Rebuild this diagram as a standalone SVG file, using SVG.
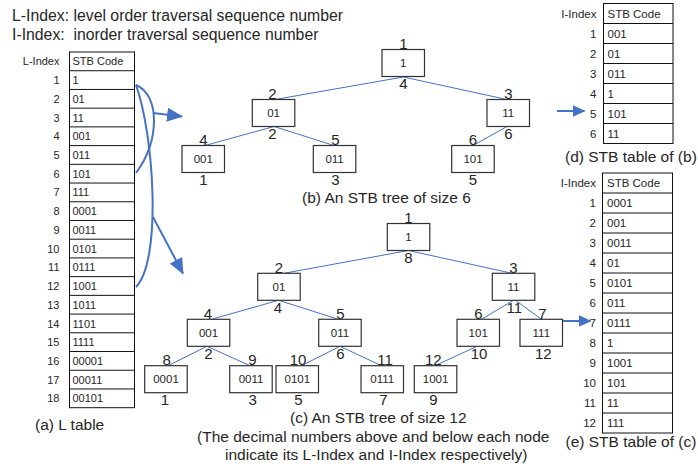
<svg xmlns="http://www.w3.org/2000/svg" width="698" height="467" viewBox="0 0 698 467">
<style>
text{font-family:"Liberation Sans",Arial,sans-serif;fill:#262626}
.big{font-size:15.5px}
.top{font-size:15.8px}
.lbl{font-size:15px;text-anchor:middle}
.code{font-size:11.5px;text-anchor:middle}
.tl{font-size:11px}
.tr{font-size:11px;text-anchor:end}
.rl{font-size:11.5px}
.rr{font-size:11.5px;text-anchor:end}
.box{fill:#fff;stroke:#333;stroke-width:1.2}
.tab{fill:none;stroke:#111;stroke-width:1}
.edge{stroke:#4472C4;stroke-width:1;fill:none}
.brace{stroke:#4472C4;stroke-width:2;fill:none}
</style>
<defs>
<marker id="ah" viewBox="0 0 16 14" refX="15" refY="7" markerWidth="16" markerHeight="14" markerUnits="userSpaceOnUse" orient="auto">
<path d="M0,0 L16,7 L0,14 Z" fill="#4472C4"/>
</marker>
<marker id="ahs" viewBox="0 0 13 12" refX="12" refY="6" markerWidth="13" markerHeight="12" markerUnits="userSpaceOnUse" orient="auto">
<path d="M0,0 L13,6 L0,12 Z" fill="#4472C4"/>
</marker>
</defs>

<text class="top" x="12" y="20.5">L-Index: level order traversal sequence number</text>
<text class="top" x="12" y="40" xml:space="preserve">I-Index:  inorder traversal sequence number</text>

<!-- L table -->
<g id="ltable">
<rect class="tab" x="69.5" y="52" width="65" height="355.7"/>
<path class="tab" d="M69.5,70.72H134.5M69.5,89.44H134.5M69.5,108.16H134.5M69.5,126.88H134.5M69.5,145.6H134.5M69.5,164.32H134.5M69.5,183.04H134.5M69.5,201.76H134.5M69.5,220.48H134.5M69.5,239.2H134.5M69.5,257.92H134.5M69.5,276.64H134.5M69.5,295.36H134.5M69.5,314.08H134.5M69.5,332.8H134.5M69.5,351.52H134.5M69.5,370.24H134.5M69.5,388.96H134.5"/>
<text class="tr" x="59.5" y="65.4">L-Index</text><text class="tl" x="72.5" y="65.4">STB Code</text>
<text class="tr" x="59.5" y="84.1">1</text><text class="tl" x="72.5" y="84.1">1</text>
<text class="tr" x="59.5" y="102.8">2</text><text class="tl" x="72.5" y="102.8">01</text>
<text class="tr" x="59.5" y="121.6">3</text><text class="tl" x="72.5" y="121.6">11</text>
<text class="tr" x="59.5" y="140.3">4</text><text class="tl" x="72.5" y="140.3">001</text>
<text class="tr" x="59.5" y="159">5</text><text class="tl" x="72.5" y="159">011</text>
<text class="tr" x="59.5" y="177.7">6</text><text class="tl" x="72.5" y="177.7">101</text>
<text class="tr" x="59.5" y="196.4">7</text><text class="tl" x="72.5" y="196.4">111</text>
<text class="tr" x="59.5" y="215.2">8</text><text class="tl" x="72.5" y="215.2">0001</text>
<text class="tr" x="59.5" y="233.9">9</text><text class="tl" x="72.5" y="233.9">0011</text>
<text class="tr" x="59.5" y="252.6">10</text><text class="tl" x="72.5" y="252.6">0101</text>
<text class="tr" x="59.5" y="271.3">11</text><text class="tl" x="72.5" y="271.3">0111</text>
<text class="tr" x="59.5" y="290">12</text><text class="tl" x="72.5" y="290">1001</text>
<text class="tr" x="59.5" y="308.8">13</text><text class="tl" x="72.5" y="308.8">1011</text>
<text class="tr" x="59.5" y="327.5">14</text><text class="tl" x="72.5" y="327.5">1101</text>
<text class="tr" x="59.5" y="346.2">15</text><text class="tl" x="72.5" y="346.2">1111</text>
<text class="tr" x="59.5" y="364.9">16</text><text class="tl" x="72.5" y="364.9">00001</text>
<text class="tr" x="59.5" y="383.6">17</text><text class="tl" x="72.5" y="383.6">00011</text>
<text class="tr" x="59.5" y="402.4">18</text><text class="tl" x="72.5" y="402.4">00101</text>
<text class="big" x="35" y="429.5">(a) L table</text>
</g>

<!-- table d -->
<g id="dtable">
<rect class="tab" x="603.5" y="3.5" width="69.5" height="140"/>
<path class="tab" d="M603.5,23.5H673M603.5,43.5H673M603.5,63.5H673M603.5,83.5H673M603.5,103.5H673M603.5,123.5H673"/>
<text class="rr" x="596.5" y="17.8">I-Index</text><text class="rl" x="607.5" y="17.8">STB Code</text>
<text class="rr" x="596.5" y="37.8">1</text><text class="rl" x="607.5" y="37.8">001</text>
<text class="rr" x="596.5" y="57.8">2</text><text class="rl" x="607.5" y="57.8">01</text>
<text class="rr" x="596.5" y="77.8">3</text><text class="rl" x="607.5" y="77.8">011</text>
<text class="rr" x="596.5" y="97.8">4</text><text class="rl" x="607.5" y="97.8">1</text>
<text class="rr" x="596.5" y="117.8">5</text><text class="rl" x="607.5" y="117.8">101</text>
<text class="rr" x="596.5" y="137.8">6</text><text class="rl" x="607.5" y="137.8">11</text>
<text class="big" x="565" y="162">(d) STB table of (b)</text>
</g>

<!-- table e -->
<g id="etable">
<rect class="tab" x="602.5" y="173" width="70" height="260"/>
<path class="tab" d="M602.5,193H672.5M602.5,213H672.5M602.5,233H672.5M602.5,253H672.5M602.5,273H672.5M602.5,293H672.5M602.5,313H672.5M602.5,333H672.5M602.5,353H672.5M602.5,373H672.5M602.5,393H672.5M602.5,413H672.5"/>
<text class="rr" x="596" y="187.3">I-Index</text><text class="rl" x="607" y="187.3">STB Code</text>
<text class="rr" x="596" y="207.3">1</text><text class="rl" x="607" y="207.3">0001</text>
<text class="rr" x="596" y="227.3">2</text><text class="rl" x="607" y="227.3">001</text>
<text class="rr" x="596" y="247.3">3</text><text class="rl" x="607" y="247.3">0011</text>
<text class="rr" x="596" y="267.3">4</text><text class="rl" x="607" y="267.3">01</text>
<text class="rr" x="596" y="287.3">5</text><text class="rl" x="607" y="287.3">0101</text>
<text class="rr" x="596" y="307.3">6</text><text class="rl" x="607" y="307.3">011</text>
<text class="rr" x="596" y="327.3">7</text><text class="rl" x="607" y="327.3">0111</text>
<text class="rr" x="596" y="347.3">8</text><text class="rl" x="607" y="347.3">1</text>
<text class="rr" x="596" y="367.3">9</text><text class="rl" x="607" y="367.3">1001</text>
<text class="rr" x="596" y="387.3">10</text><text class="rl" x="607" y="387.3">101</text>
<text class="rr" x="596" y="407.3">11</text><text class="rl" x="607" y="407.3">11</text>
<text class="rr" x="596" y="427.3">12</text><text class="rl" x="607" y="427.3">111</text>
<text class="big" x="565.5" y="447">(e) STB table of (c)</text>
</g>

<!-- connectors -->
<g id="connectors">
<line class="edge" x1="403.3" y1="77" x2="275" y2="99.5"/>
<line class="edge" x1="403.3" y1="77" x2="507" y2="99.5"/>
<line class="edge" x1="274" y1="126.5" x2="205" y2="145.5"/>
<line class="edge" x1="274" y1="126.5" x2="334" y2="145.5"/>
<line class="edge" x1="507" y1="126.5" x2="473" y2="145.5"/>

<line class="edge" x1="408.5" y1="250.5" x2="284" y2="273.3"/>
<line class="edge" x1="408.5" y1="250.5" x2="512" y2="273.3"/>
<line class="edge" x1="278.5" y1="300.3" x2="211.5" y2="319.3"/>
<line class="edge" x1="278.5" y1="300.3" x2="338.5" y2="319.3"/>
<line class="edge" x1="513.5" y1="300.3" x2="481.5" y2="319.3"/>
<line class="edge" x1="515.5" y1="300.3" x2="541.5" y2="319.3"/>
<line class="edge" x1="207" y1="346.3" x2="168" y2="365.7"/>
<line class="edge" x1="207" y1="346.3" x2="250" y2="365.7"/>
<line class="edge" x1="340" y1="346.3" x2="301.5" y2="365.7"/>
<line class="edge" x1="340" y1="346.3" x2="381.5" y2="365.7"/>
<line class="edge" x1="477" y1="346.3" x2="435" y2="365.7"/>

<path class="brace" d="M136,85 C160,95 160,140 136,173"/>
<path class="brace" d="M136,85 C154,135 162,260 136,287"/>
<line class="brace" x1="153" y1="113" x2="182" y2="116.5" marker-end="url(#ah)"/>
<line class="brace" x1="153" y1="217" x2="183" y2="273.5" marker-end="url(#ah)"/>
<line class="brace" x1="557" y1="111" x2="584.5" y2="111" marker-end="url(#ahs)"/>
<line class="brace" x1="562" y1="321" x2="590.5" y2="321" marker-end="url(#ahs)"/>
</g>

<!-- tree b -->
<g id="b1"><rect class="box" x="382" y="49.5" width="42.5" height="27"/><text class="code" x="403.3" y="67">1</text><text class="lbl" x="403.3" y="49">1</text><text class="lbl" x="403.3" y="89">4</text></g>
<g id="b2"><rect class="box" x="252.3" y="99.5" width="42.5" height="27"/><text class="code" x="273.6" y="117">01</text><text class="lbl" x="272.5" y="99">2</text><text class="lbl" x="272.5" y="139">2</text></g>
<g id="b3"><rect class="box" x="487" y="99.5" width="42.5" height="27"/><text class="code" x="508.3" y="117">11</text><text class="lbl" x="508.3" y="99">3</text><text class="lbl" x="508.3" y="139">6</text></g>
<g id="b4"><rect class="box" x="182" y="145.5" width="42.5" height="27"/><text class="code" x="203.3" y="163">001</text><text class="lbl" x="203.3" y="145">4</text><text class="lbl" x="203.3" y="185">1</text></g>
<g id="b5"><rect class="box" x="313.3" y="145.5" width="42.5" height="27"/><text class="code" x="334.6" y="163">011</text><text class="lbl" x="335.5" y="145">5</text><text class="lbl" x="335.5" y="185">3</text></g>
<g id="b6"><rect class="box" x="451.7" y="145.5" width="42.5" height="27"/><text class="code" x="473" y="163">101</text><text class="lbl" x="473" y="145">6</text><text class="lbl" x="473" y="185">5</text></g>
<text class="big" x="302" y="203">(b) An STB tree of size 6</text>

<!-- tree c -->
<g id="c1"><rect class="box" x="387.3" y="223.5" width="42.5" height="27"/><text class="code" x="408.5" y="241">1</text><text class="lbl" x="408.5" y="223">1</text><text class="lbl" x="408.5" y="263">8</text></g>
<g id="c2"><rect class="box" x="257.7" y="273.3" width="42.5" height="27"/><text class="code" x="279" y="290.8">01</text><text class="lbl" x="279" y="272.8">2</text><text class="lbl" x="278" y="312.8">4</text></g>
<g id="c3"><rect class="box" x="492.3" y="273.3" width="42.5" height="27"/><text class="code" x="513.5" y="290.8">11</text><text class="lbl" x="513.5" y="272.8">3</text><text class="lbl" x="514.3" y="312.8">11</text></g>
<g id="c4"><rect class="box" x="187.3" y="319.3" width="42.5" height="27"/><text class="code" x="208.5" y="336.8">001</text><text class="lbl" x="208" y="318.8">4</text><text class="lbl" x="208.5" y="358.8">2</text></g>
<g id="c5"><rect class="box" x="318.7" y="319.3" width="42.5" height="27"/><text class="code" x="340" y="336.8">011</text><text class="lbl" x="340.5" y="318.8">5</text><text class="lbl" x="340.5" y="358.8">6</text></g>
<g id="c6"><rect class="box" x="457" y="319.3" width="42.5" height="27"/><text class="code" x="478.2" y="336.8">101</text><text class="lbl" x="478.3" y="318.8">6</text><text class="lbl" x="479" y="358.8">10</text></g>
<g id="c7"><rect class="box" x="520" y="319.3" width="42.5" height="27"/><text class="code" x="541.3" y="336.8">111</text><text class="lbl" x="542.3" y="318.8">7</text><text class="lbl" x="543.3" y="358.8">12</text></g>
<g id="c8"><rect class="box" x="144.7" y="365.7" width="42.5" height="27"/><text class="code" x="166" y="383.2">0001</text><text class="lbl" x="166.7" y="365.2">8</text><text class="lbl" x="165" y="404.5">1</text></g>
<g id="c9"><rect class="box" x="229.7" y="365.7" width="42.5" height="27"/><text class="code" x="251" y="383.2">0011</text><text class="lbl" x="252.3" y="365.2">9</text><text class="lbl" x="252.7" y="404.5">3</text></g>
<g id="c10"><rect class="box" x="276" y="365.7" width="42.5" height="27"/><text class="code" x="297.3" y="383.2">0101</text><text class="lbl" x="298" y="365.2">10</text><text class="lbl" x="298.3" y="405">5</text></g>
<g id="c11"><rect class="box" x="361" y="365.7" width="42.5" height="27"/><text class="code" x="382.3" y="383.2">0111</text><text class="lbl" x="385" y="365.2">11</text><text class="lbl" x="383.3" y="404.5">7</text></g>
<g id="c12"><rect class="box" x="414.3" y="365.7" width="42.5" height="27"/><text class="code" x="435.6" y="383.2">1001</text><text class="lbl" x="433.3" y="365.2">12</text><text class="lbl" x="433.3" y="404.5">9</text></g>
<text class="big" x="290" y="422.5">(c) An STB tree of size 12</text>
<text class="big" x="197" y="441.5">(The decimal numbers above and below each node</text>
<text class="big" x="225" y="459.5">indicate its L-Index and I-Index respectively)</text>
</svg>
